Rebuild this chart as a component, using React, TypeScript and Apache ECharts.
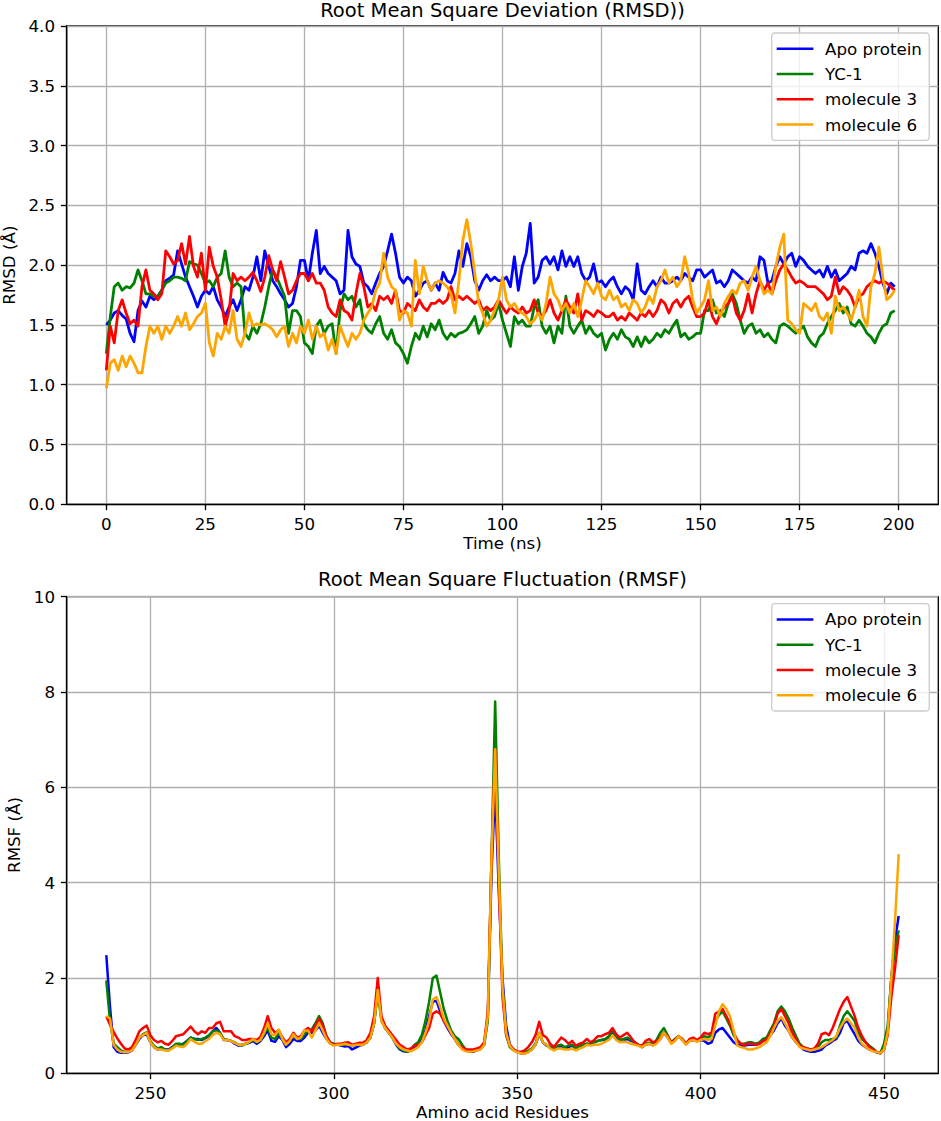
import { useEffect, useRef } from "react";
import * as echarts from "echarts";

const SERIES_NAMES = ["Apo protein", "YC-1", "molecule 3", "molecule 6"];
const COLORS = ["#0000ff", "#008000", "#ff0000", "#ffa500"];

const TITLE_RMSD = "Root Mean Square Deviation (RMSD))";
const TITLE_RMSF = "Root Mean Square Fluctuation (RMSF)";

const RMSD_X_TICKS = [0, 25, 50, 75, 100, 125, 150, 175, 200];
const RMSF_X_TICKS = [250, 300, 350, 400, 450];

// RMSD sampled every 1 ns, t = 0 .. 199
const TIME_STEP_NS = 1;

const RMSD_APO = [
  1.5, 1.54, 1.6, 1.62, 1.58, 1.55, 1.43, 1.36, 1.62, 1.7,
  1.65, 1.74, 1.71, 1.74, 1.79, 1.87, 1.89, 1.92, 2.12, 2.01,
  1.9, 1.82, 1.74, 1.65, 1.74, 1.79, 1.76, 1.82, 1.71, 1.65,
  1.57, 1.65, 1.71, 1.62, 1.71, 1.82, 1.79, 1.9, 2.07, 1.87,
  2.12, 1.99, 1.87, 1.82, 1.76, 1.71, 1.65, 1.68, 1.82, 2.04,
  2.04, 1.87, 2.1, 2.29, 1.93, 1.99, 1.93, 1.9, 1.87, 1.76,
  1.79, 2.29, 2.07, 2.01, 1.99, 1.85, 1.82, 1.76, 1.85, 1.93,
  1.99, 2.12, 2.26, 2.1, 1.9, 1.85, 1.9, 1.87, 1.74, 1.79,
  1.85, 1.87, 1.79, 1.85, 1.79, 1.94, 1.87, 1.85, 1.93, 2.12,
  1.99, 2.18, 2.07, 1.87, 1.79, 1.87, 1.92, 1.87, 1.9, 1.87,
  1.87, 1.9, 1.82, 2.07, 1.79, 1.99, 2.1, 2.35, 1.85, 1.9,
  2.04, 2.07, 2.01, 2.07, 1.96, 2.12, 1.99, 2.07, 1.99, 2.07,
  1.93, 1.87, 1.9, 2.01, 1.85, 1.87, 1.82, 1.87, 1.9, 1.82,
  1.76, 1.82, 1.79, 1.71, 2.01, 1.79, 1.76, 1.82, 1.87, 1.82,
  1.9, 1.85, 1.85, 1.87, 1.9, 1.87, 1.93, 1.9, 1.87, 1.96,
  1.96, 1.9, 1.93, 1.96, 1.85, 1.87, 1.82, 1.87, 1.96, 1.93,
  1.9, 1.87, 1.85, 1.9, 1.87, 2.07, 2.04, 1.85, 1.87, 1.99,
  2.07, 2.01, 2.07, 2.1, 1.99, 2.07, 2.04, 1.99, 1.96, 1.93,
  1.96, 1.9, 1.99, 1.9, 1.96, 1.87, 1.9, 1.93, 1.99, 1.96,
  2.1, 2.12, 2.1, 2.18, 2.1, 1.99, 1.85, 1.76, 1.85, 1.82,
];

const RMSD_YC1 = [
  1.26, 1.57, 1.82, 1.85, 1.79, 1.82, 1.81, 1.85, 1.96, 1.87,
  1.76, 1.76, 1.74, 1.74, 1.79, 1.85, 1.87, 1.9, 1.9, 1.89,
  1.87, 2.03, 2.01, 2.0, 1.93, 1.85, 1.87, 1.82, 1.9, 1.93,
  2.12, 1.9, 1.82, 1.85, 1.82, 1.43, 1.38, 1.49, 1.43, 1.51,
  1.65, 1.82, 1.96, 1.9, 1.82, 1.74, 1.43, 1.62, 1.62, 1.57,
  1.35, 1.32, 1.26, 1.49, 1.54, 1.43, 1.49, 1.51, 1.26, 1.62,
  1.76, 1.71, 1.74, 1.65, 1.71, 1.51, 1.46, 1.43, 1.51, 1.57,
  1.43, 1.38, 1.46, 1.35, 1.32, 1.26, 1.18, 1.32, 1.43, 1.38,
  1.49, 1.4, 1.51, 1.46, 1.54, 1.43, 1.38, 1.43, 1.4, 1.43,
  1.44, 1.46, 1.51, 1.57, 1.43, 1.49, 1.62, 1.54, 1.57, 1.68,
  1.54, 1.43, 1.32, 1.57, 1.51, 1.54, 1.49, 1.49, 1.65, 1.71,
  1.49, 1.43, 1.49, 1.35, 1.49, 1.43, 1.74, 1.49, 1.43, 1.49,
  1.54, 1.43, 1.49, 1.43, 1.4, 1.43, 1.29, 1.38, 1.43, 1.38,
  1.46, 1.4, 1.38, 1.32, 1.4, 1.32, 1.4, 1.35, 1.38, 1.43,
  1.4, 1.46, 1.43, 1.49, 1.54, 1.4, 1.43, 1.38, 1.4, 1.43,
  1.43, 1.62, 1.62, 1.71, 1.6, 1.62, 1.57, 1.68, 1.76, 1.68,
  1.54, 1.43, 1.49, 1.51, 1.43, 1.46, 1.4, 1.43, 1.38, 1.35,
  1.49, 1.51, 1.49, 1.46, 1.43, 1.46, 1.49, 1.4, 1.35, 1.32,
  1.4, 1.43, 1.51, 1.57, 1.62, 1.68, 1.6, 1.65, 1.51, 1.49,
  1.54, 1.49, 1.43, 1.4, 1.35, 1.43, 1.49, 1.51, 1.6, 1.62,
];

const RMSD_MOL3 = [
  1.12, 1.49, 1.35, 1.62, 1.71, 1.6, 1.51, 1.54, 1.49, 1.82,
  1.96, 1.79, 1.76, 1.71, 1.76, 2.12, 2.07, 2.01, 2.04, 2.18,
  2.01, 2.24, 1.99, 1.9, 2.1, 1.79, 2.15, 1.99, 1.9, 1.71,
  1.49, 1.62, 1.93, 1.87, 1.9, 1.87, 1.9, 1.94, 1.87, 1.78,
  1.9, 2.08, 1.96, 1.87, 2.03, 1.9, 1.76, 1.79, 1.87, 1.93,
  1.93, 1.87, 1.93, 1.85, 1.85, 1.79, 1.65, 1.6, 1.57, 1.71,
  1.62, 1.6, 1.54, 1.76, 1.93, 1.82, 1.65, 1.68, 1.62, 1.74,
  1.71, 1.74, 1.68, 1.79, 1.62, 1.6, 1.68, 1.65, 1.62, 1.71,
  1.65, 1.62, 1.68, 1.68, 1.71, 1.68, 1.71, 1.82, 1.71, 1.74,
  1.71, 1.74, 1.71, 1.68, 1.71, 1.62, 1.65, 1.62, 1.65, 1.71,
  1.65, 1.6, 1.65, 1.62, 1.6, 1.65, 1.6, 1.62, 1.71, 1.6,
  1.57, 1.62, 1.71, 1.6, 1.54, 1.62, 1.71, 1.65, 1.6, 1.76,
  1.54, 1.62, 1.6, 1.57, 1.62, 1.6, 1.57, 1.57, 1.6, 1.54,
  1.57, 1.54, 1.6, 1.57, 1.54, 1.6, 1.57, 1.62, 1.57, 1.62,
  1.71, 1.68, 1.6, 1.68, 1.71, 1.65, 1.71, 1.74, 1.65, 1.57,
  1.57, 1.6, 1.71, 1.57, 1.51, 1.6, 1.65, 1.68, 1.74, 1.6,
  1.54, 1.62, 1.76, 1.6, 1.76, 1.87, 1.79, 1.85, 1.76, 1.87,
  1.96, 2.01, 1.96, 1.9, 1.85, 1.87, 1.85, 1.82, 1.82, 1.82,
  1.79, 1.76, 1.71, 1.74, 1.9, 1.76, 1.82, 1.79, 1.74, 1.65,
  1.74, 1.76, 1.82, 1.85, 1.87, 1.85, 1.87, 1.85, 1.82, 1.79,
];

const RMSD_MOL6 = [
  0.97, 1.18, 1.21, 1.12, 1.24, 1.15, 1.24, 1.18, 1.1, 1.1,
  1.32, 1.49, 1.43, 1.49, 1.38, 1.49, 1.43, 1.49, 1.57, 1.49,
  1.6, 1.46, 1.51, 1.57, 1.6, 1.68, 1.35, 1.24, 1.43, 1.38,
  1.49, 1.43, 1.62, 1.38, 1.32, 1.43, 1.6, 1.49, 1.51, 1.5,
  1.51, 1.49, 1.46, 1.4, 1.46, 1.49, 1.32, 1.43, 1.35, 1.49,
  1.43, 1.54, 1.38, 1.49, 1.4, 1.43, 1.29, 1.38, 1.26, 1.49,
  1.4, 1.32, 1.43, 1.38, 1.43, 1.54, 1.6, 1.65, 1.79, 1.85,
  2.1, 1.9, 1.82, 1.79, 1.54, 1.62, 1.6, 1.49, 2.04, 1.76,
  1.99, 1.87, 1.79, 1.85, 1.87, 1.85, 1.82, 1.76, 1.6, 1.87,
  2.21, 2.38, 2.18, 1.93, 1.68, 1.6, 1.49, 1.54, 1.62, 1.71,
  1.9, 1.71, 1.65, 1.68, 1.62, 1.6, 1.57, 1.51, 1.54, 1.6,
  1.54, 1.68, 1.9, 1.76, 1.71, 1.62, 1.68, 1.6, 1.68, 1.57,
  1.71, 1.87, 1.82, 1.76, 1.85, 1.74, 1.71, 1.79, 1.71, 1.74,
  1.65, 1.68, 1.62, 1.71, 1.68, 1.6, 1.65, 1.74, 1.68, 1.82,
  1.87, 1.96, 1.85, 1.9, 1.82, 1.87, 2.07, 1.93, 1.71, 1.6,
  1.65, 1.71, 1.87, 1.62, 1.65, 1.57, 1.68, 1.74, 1.79, 1.76,
  1.85, 1.87, 1.79, 1.9, 1.99, 1.87, 1.76, 1.79, 1.76, 1.99,
  2.15, 2.26, 1.54, 1.51, 1.46, 1.43, 1.68, 1.65, 1.62, 1.68,
  1.57, 1.54, 1.6, 1.43, 1.74, 1.62, 1.65, 1.6, 1.54, 1.65,
  1.79, 1.57, 1.49, 1.82, 1.93, 2.15, 1.9, 1.71, 1.74, 1.79,
];

// RMSF per residue, residues 238 .. 454
const RESIDUE_START = 238;

const RMSF_APO = [
  2.48, 1.4, 0.55, 0.45, 0.43, 0.43, 0.44, 0.48, 0.6, 0.72,
  0.8, 0.82, 0.65, 0.55, 0.5, 0.52, 0.5, 0.5, 0.55, 0.6,
  0.6, 0.62, 0.68, 0.75, 0.72, 0.72, 0.7, 0.74, 0.78, 0.88,
  0.95, 0.85, 0.7, 0.7, 0.68, 0.62, 0.58, 0.6, 0.62, 0.64,
  0.68, 0.62, 0.68, 0.78, 0.9, 0.68, 0.66, 0.78, 0.7, 0.55,
  0.62, 0.72, 0.68, 0.68, 0.75, 0.85, 0.85, 0.9, 1.0, 0.85,
  0.72, 0.63, 0.6, 0.6, 0.58, 0.56, 0.57, 0.5, 0.54, 0.58,
  0.6, 0.65, 0.75, 1.05, 1.75, 1.15, 0.95, 0.85, 0.75, 0.6,
  0.5, 0.46, 0.45, 0.48, 0.55, 0.62, 0.72, 0.9, 1.2, 1.5,
  1.52, 1.3, 1.1, 0.95, 0.82, 0.72, 0.6, 0.52, 0.48, 0.46,
  0.45, 0.48, 0.52, 0.6, 1.2, 4.2, 6.0, 3.8, 2.0, 1.0,
  0.6, 0.5, 0.45, 0.42, 0.42, 0.45, 0.5, 0.6, 0.82, 0.65,
  0.58, 0.55, 0.5, 0.55, 0.55, 0.52, 0.55, 0.58, 0.5, 0.55,
  0.6, 0.62, 0.6, 0.65, 0.68, 0.7, 0.7, 0.75, 0.85, 0.75,
  0.68, 0.7, 0.72, 0.68, 0.65, 0.6, 0.55, 0.6, 0.62, 0.6,
  0.65, 0.72, 0.85, 0.75, 0.65, 0.7, 0.78, 0.7, 0.62, 0.68,
  0.7, 0.68, 0.7, 0.68, 0.62, 0.65, 0.85, 0.92, 0.95, 0.85,
  0.75, 0.65, 0.6, 0.58, 0.58, 0.6, 0.6, 0.6, 0.62, 0.68,
  0.72, 0.8, 0.9, 1.05, 1.15, 1.0, 0.9, 0.75, 0.65, 0.58,
  0.5, 0.47, 0.45, 0.45, 0.47, 0.5, 0.58, 0.62, 0.68, 0.72,
  0.85, 1.05, 1.1, 0.95, 0.82, 0.68, 0.6, 0.55, 0.5, 0.48,
  0.44, 0.42, 0.5, 0.9, 2.0, 2.8, 3.3,
];

const RMSF_YC1 = [
  1.95, 1.1, 0.62, 0.55, 0.48, 0.45, 0.46, 0.5, 0.62, 0.75,
  0.82, 0.86, 0.68, 0.58, 0.52, 0.55, 0.5, 0.48, 0.55, 0.62,
  0.62, 0.6, 0.68, 0.75, 0.72, 0.7, 0.72, 0.75, 0.8, 0.88,
  0.9, 0.85, 0.72, 0.7, 0.68, 0.65, 0.6, 0.58, 0.62, 0.65,
  0.7, 0.65, 0.7, 0.82, 0.98, 0.75, 0.72, 0.85, 0.72, 0.6,
  0.68, 0.8, 0.72, 0.72, 0.82, 0.9, 0.92, 1.05, 1.2, 1.05,
  0.78, 0.65, 0.62, 0.6, 0.6, 0.6, 0.62, 0.58, 0.6, 0.62,
  0.62, 0.65, 0.75, 1.05, 1.7, 1.1, 0.95, 0.85, 0.75, 0.62,
  0.52, 0.48, 0.45, 0.5, 0.6, 0.65, 0.8, 1.1, 1.5, 2.0,
  2.05, 1.7, 1.35, 1.1, 0.9, 0.78, 0.72, 0.6, 0.5, 0.46,
  0.46, 0.5, 0.52, 0.6, 1.1, 4.5, 7.8, 4.5, 1.8, 0.8,
  0.55, 0.48, 0.45, 0.43, 0.43, 0.47, 0.52, 0.62, 0.85, 0.65,
  0.6, 0.55, 0.52, 0.58, 0.6, 0.55, 0.58, 0.6, 0.52, 0.58,
  0.6, 0.62, 0.6, 0.65, 0.68, 0.7, 0.72, 0.78, 0.9, 0.78,
  0.7, 0.72, 0.75, 0.7, 0.65, 0.6, 0.55, 0.62, 0.64, 0.62,
  0.7, 0.85, 0.95, 0.8, 0.65, 0.72, 0.78, 0.72, 0.62, 0.7,
  0.72, 0.68, 0.72, 0.78, 0.75, 0.8, 1.1, 1.22, 1.3, 1.15,
  1.0, 0.8, 0.68, 0.62, 0.62, 0.65, 0.65, 0.62, 0.65, 0.72,
  0.75, 0.9, 1.05, 1.3, 1.4, 1.3, 1.15, 0.95, 0.78, 0.62,
  0.55, 0.52, 0.5, 0.5, 0.55, 0.65, 0.7, 0.7, 0.72, 0.75,
  1.0, 1.2, 1.3, 1.2, 1.1, 0.85, 0.72, 0.65, 0.58, 0.52,
  0.45, 0.42, 0.62, 1.0, 2.0, 2.6, 3.0,
];

const RMSF_MOL3 = [
  1.19, 1.02, 0.87, 0.73, 0.62, 0.52, 0.5, 0.55, 0.7, 0.88,
  0.95, 1.0, 0.8, 0.7, 0.65, 0.68, 0.62, 0.6, 0.68, 0.78,
  0.8, 0.82, 0.9, 0.98, 0.88, 0.82, 0.88, 0.85, 0.95, 0.95,
  1.05, 1.08, 0.88, 0.88, 0.88, 0.78, 0.75, 0.7, 0.7, 0.72,
  0.72, 0.7, 0.76, 0.95, 1.2, 0.95, 0.85, 0.9, 0.75, 0.65,
  0.72, 0.85, 0.75, 0.78, 0.9, 0.95, 0.88, 1.0, 1.15, 1.0,
  0.78, 0.65, 0.6, 0.62, 0.62, 0.64, 0.65, 0.6, 0.62, 0.64,
  0.64, 0.7, 0.85, 1.2, 2.0, 1.2, 1.0, 0.9, 0.8, 0.7,
  0.6, 0.55, 0.5, 0.52, 0.58, 0.6, 0.65, 0.8, 0.95, 1.25,
  1.3, 1.25, 1.1, 0.98, 0.85, 0.72, 0.6, 0.55, 0.5, 0.5,
  0.5, 0.52, 0.55, 0.65, 1.3, 4.5, 6.8, 4.0, 1.6, 0.8,
  0.6, 0.5, 0.46, 0.45, 0.48, 0.55, 0.65, 0.8, 1.08, 0.8,
  0.75, 0.62, 0.55, 0.65, 0.75, 0.7, 0.62, 0.68, 0.58, 0.62,
  0.65, 0.72, 0.65, 0.7, 0.78, 0.78, 0.82, 0.85, 0.95, 0.82,
  0.75, 0.8, 0.85, 0.75, 0.65, 0.6, 0.58, 0.68, 0.72, 0.65,
  0.68, 0.75, 0.85, 0.78, 0.65, 0.7, 0.78, 0.72, 0.62, 0.72,
  0.75, 0.7, 0.75, 0.85, 0.82, 0.85, 1.25, 1.3, 1.35, 1.2,
  1.05, 0.85, 0.7, 0.62, 0.6, 0.62, 0.62, 0.6, 0.62, 0.68,
  0.7, 0.85, 1.0, 1.25, 1.35, 1.2, 1.05, 0.85, 0.72, 0.58,
  0.55, 0.52, 0.5, 0.52, 0.62, 0.82, 0.85, 0.8, 0.95, 1.15,
  1.35, 1.5, 1.6, 1.4, 1.2, 0.95, 0.78, 0.65, 0.55, 0.5,
  0.45, 0.42, 0.5, 0.8, 1.6, 2.2, 2.9,
];

const RMSF_MOL6 = [
  1.2, 1.15, 0.6, 0.5, 0.45, 0.44, 0.45, 0.48, 0.6, 0.75,
  0.8, 0.85, 0.65, 0.55, 0.5, 0.5, 0.48, 0.48, 0.52, 0.58,
  0.56, 0.55, 0.62, 0.72, 0.66, 0.62, 0.62, 0.68, 0.72, 0.8,
  0.85, 0.82, 0.7, 0.7, 0.68, 0.64, 0.6, 0.6, 0.62, 0.66,
  0.72, 0.66, 0.7, 0.85, 1.05, 0.82, 0.8, 0.92, 0.72, 0.6,
  0.68, 0.82, 0.72, 0.75, 0.9, 0.9, 0.75, 0.9, 1.05, 0.9,
  0.72, 0.62, 0.58, 0.6, 0.6, 0.62, 0.6, 0.58, 0.6, 0.6,
  0.6, 0.65, 0.75, 1.05, 1.75, 1.1, 0.95, 0.85, 0.75, 0.62,
  0.55, 0.5, 0.48, 0.46, 0.5, 0.55, 0.65, 0.85, 1.1, 1.55,
  1.6, 1.4, 1.15, 1.0, 0.85, 0.72, 0.6, 0.5, 0.46, 0.45,
  0.46, 0.48, 0.5, 0.6, 1.2, 4.5, 6.8, 4.2, 1.8, 0.85,
  0.58, 0.48, 0.44, 0.42, 0.41, 0.44, 0.5, 0.6, 0.85, 0.65,
  0.6, 0.52, 0.48, 0.52, 0.52, 0.5, 0.5, 0.52, 0.48, 0.52,
  0.55, 0.6, 0.58, 0.6, 0.6, 0.62, 0.66, 0.7, 0.8, 0.7,
  0.65, 0.66, 0.65, 0.62, 0.6, 0.58, 0.55, 0.6, 0.62, 0.58,
  0.62, 0.72, 0.85, 0.75, 0.62, 0.68, 0.78, 0.7, 0.6, 0.68,
  0.7, 0.66, 0.7, 0.72, 0.7, 0.72, 1.0, 1.3, 1.45, 1.35,
  1.2, 0.9, 0.58, 0.55, 0.53, 0.5, 0.5, 0.52, 0.55, 0.6,
  0.65, 0.78, 0.95, 1.1, 1.18, 1.05, 0.9, 0.75, 0.65, 0.55,
  0.52, 0.5, 0.48, 0.5, 0.52, 0.55, 0.6, 0.65, 0.7, 0.78,
  0.95, 1.08, 1.15, 1.05, 0.95, 0.75, 0.62, 0.55, 0.5, 0.46,
  0.45, 0.42, 0.5, 0.85, 2.0, 3.2, 4.6,
];

const RMSD_SERIES = [RMSD_APO, RMSD_YC1, RMSD_MOL3, RMSD_MOL6];
const RMSF_SERIES = [RMSF_APO, RMSF_YC1, RMSF_MOL3, RMSF_MOL6];

const FONT = "DejaVu Sans";
const FS = 16.7;
const PT = 120 / 72; // px per point

const GRID_LEFT = 66.7;
const GRID_WIDTH = 871.6;
const GRID_TOPS = [26, 596.7];
const GRID_HEIGHTS = [478.3, 476.6];

function makeXAxis(gridIndex: number, min: number, max: number, ticks: number[], name: string) {
  return {
    type: "value",
    gridIndex,
    min,
    max,
    name,
    nameLocation: "middle",
    nameGap: 30,
    nameTextStyle: { fontFamily: FONT, fontSize: FS, color: "#000" },
    axisLine: { show: true, onZero: false, lineStyle: { color: "#000", width: 0.8 * PT } },
    axisTick: { show: true, inside: false, length: 3.5 * PT, customValues: ticks, lineStyle: { color: "#000", width: 0.8 * PT } },
    axisLabel: { show: true, customValues: ticks, margin: 7 * PT, fontFamily: FONT, fontSize: FS, color: "#000", hideOverlap: false, showMinLabel: true, showMaxLabel: true },
    splitLine: { show: true, lineStyle: { color: "#b0b0b0", width: 0.8 * PT } },
  };
}

function makeYAxis(gridIndex: number, max: number, interval: number, decimals: number, name: string, nameGap: number) {
  return {
    type: "value",
    gridIndex,
    min: 0,
    max,
    interval,
    name,
    nameLocation: "middle",
    nameGap,
    nameTextStyle: { fontFamily: FONT, fontSize: FS, color: "#000" },
    axisLine: { show: true, onZero: false, lineStyle: { color: "#000", width: 0.8 * PT } },
    axisTick: { show: true, inside: false, length: 3.5 * PT, lineStyle: { color: "#000", width: 0.8 * PT } },
    axisLabel: {
      show: true,
      margin: 7 * PT,
      fontFamily: FONT,
      fontSize: FS,
      color: "#000",
      formatter: (v: number) => v.toFixed(decimals),
    },
    splitLine: { show: true, lineStyle: { color: "#b0b0b0", width: 0.8 * PT } },
  };
}

function makeLegend(top: number) {
  return {
    show: true,
    orient: "vertical",
    left: 771.7,
    top,
    data: SERIES_NAMES,
    icon: "rect",
    itemWidth: 36.7,
    itemHeight: 2.5,
    itemGap: 8.3,
    selectedMode: false,
    padding: [7.2, 7.3, 7.2, 5],
    backgroundColor: "rgba(255,255,255,0.8)",
    borderColor: "#cccccc",
    borderWidth: 0.8 * PT,
    borderRadius: 3,
    textStyle: { fontFamily: FONT, fontSize: FS, color: "#000", lineHeight: 15, padding: [0, 0, 0, 6.7] },
  };
}

function buildOption() {
  const series: any[] = [];
  RMSD_SERIES.forEach((arr, s) => {
    series.push({
      type: "line",
      name: SERIES_NAMES[s],
      xAxisIndex: 0,
      yAxisIndex: 0,
      data: arr.map((v, i) => [i * TIME_STEP_NS, v]),
      showSymbol: false,
      symbol: "none",
      color: COLORS[s],
      itemStyle: { color: COLORS[s] },
      lineStyle: { color: COLORS[s], width: 2.8, join: "round" },
      emphasis: { disabled: true },
      z: 2 + s,
    });
  });
  RMSF_SERIES.forEach((arr, s) => {
    series.push({
      type: "line",
      name: SERIES_NAMES[s],
      xAxisIndex: 1,
      yAxisIndex: 1,
      data: arr.map((v, i) => [RESIDUE_START + i, v]),
      showSymbol: false,
      symbol: "none",
      color: COLORS[s],
      itemStyle: { color: COLORS[s] },
      lineStyle: { color: COLORS[s], width: 1.5 * PT, join: "round" },
      emphasis: { disabled: true },
      z: 2 + s,
    });
  });

  const centerX = GRID_LEFT + GRID_WIDTH / 2;

  return {
    animation: false,
    backgroundColor: "#ffffff",
    textStyle: { fontFamily: FONT },
    grid: GRID_TOPS.map((top, i) => ({
      left: GRID_LEFT,
      top,
      width: GRID_WIDTH,
      height: GRID_HEIGHTS[i],
      show: true,
      borderColor: "#000",
      borderWidth: 0.8 * PT,
      backgroundColor: "transparent",
      containLabel: false,
      outerBoundsMode: "none",
    })),
    xAxis: [
      makeXAxis(0, -10, 210, RMSD_X_TICKS, "Time (ns)"),
      makeXAxis(1, 227.2, 464.8, RMSF_X_TICKS, "Amino acid Residues"),
    ],
    yAxis: [
      makeYAxis(0, 4, 0.5, 1, "RMSD (Å)", 45),
      makeYAxis(1, 10, 2, 0, "RMSF (Å)", 41),
    ],
    legend: [makeLegend(33), makeLegend(603.7)],
    graphic: [
      {
        type: "text",
        x: centerX,
        y: 10.5,
        style: { text: TITLE_RMSD, fontFamily: FONT, fontSize: 19.5, fill: "#000", align: "center", verticalAlign: "middle", textAlign: "center", textVerticalAlign: "middle" },
      },
      {
        type: "text",
        x: centerX,
        y: 579.5,
        style: { text: TITLE_RMSF, fontFamily: FONT, fontSize: 19.5, fill: "#000", align: "center", verticalAlign: "middle", textAlign: "center", textVerticalAlign: "middle" },
      },
    ],
    series,
  };
}

export default function App() {
  const ref = useRef<HTMLDivElement>(null);
  useEffect(() => {
    if (!ref.current) return;
    const chart = echarts.init(ref.current, null, { renderer: "svg" });
    chart.setOption(buildOption() as any);
    return () => chart.dispose();
  }, []);
  return <div ref={ref} style={{ position: "absolute", left: 0, top: 0, width: 941, height: 1121 }} />;
}
